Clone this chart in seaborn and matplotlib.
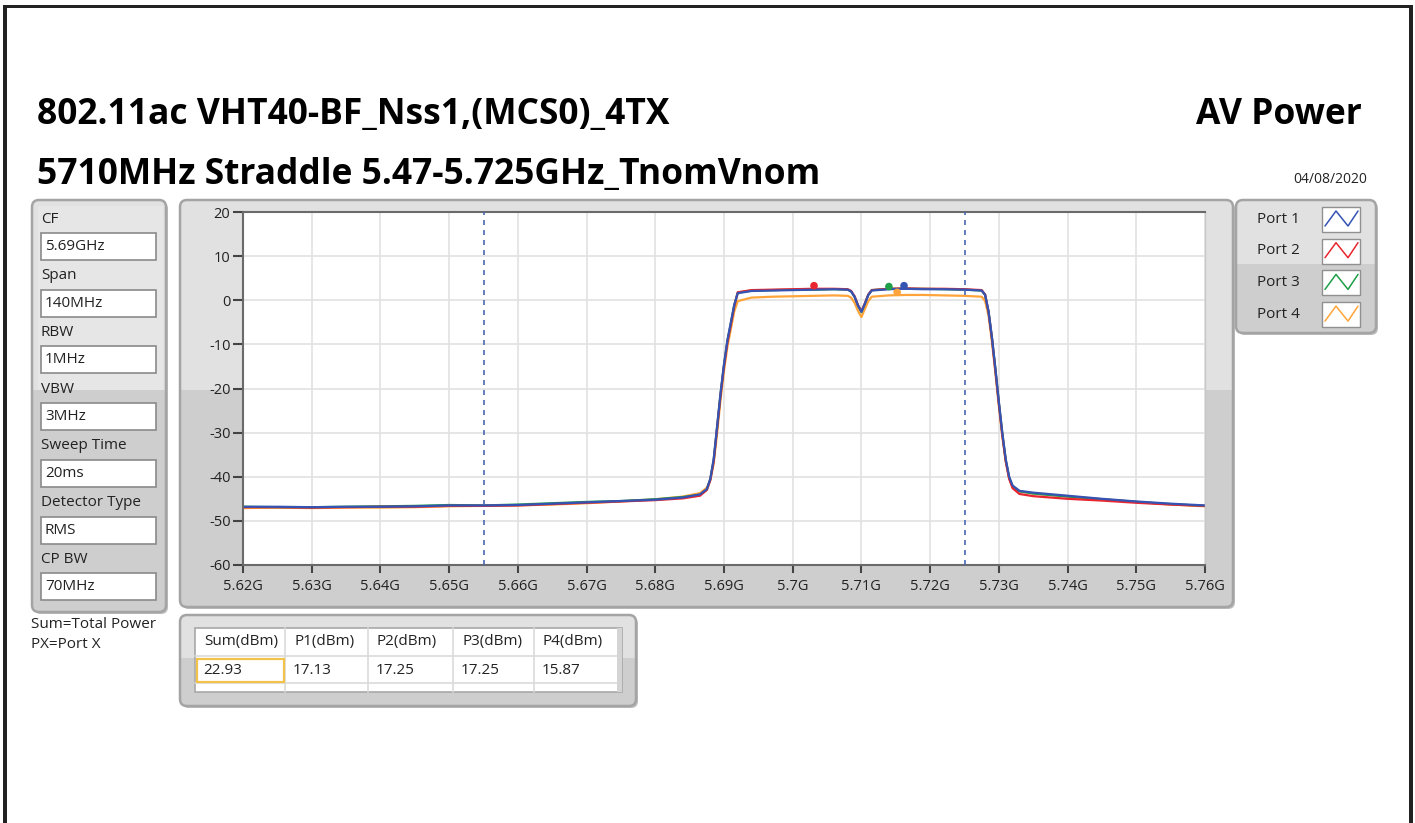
import numpy as np
import pandas as pd
import matplotlib
matplotlib.use("Agg")
import matplotlib.pyplot as plt
from matplotlib.patches import FancyBboxPatch, Rectangle
import seaborn as sns

sns.set_theme(style="white")
plt.rcParams['font.family'] = ['Open Sans', 'DejaVu Sans']

W, H = 1415, 823

# spectrum traces (GHz, dBm)
freq_ghz = [5.620, 5.625, 5.630, 5.635, 5.640, 5.645, 5.650, 5.655, 5.660, 5.665,
            5.670, 5.675, 5.680, 5.684, 5.6865, 5.6875, 5.688, 5.6885, 5.689, 5.6895,
            5.690, 5.6905, 5.691, 5.6915, 5.692, 5.694, 5.697, 5.700, 5.703, 5.706,
            5.708, 5.7085, 5.709, 5.7095, 5.710, 5.7105, 5.711, 5.7115, 5.714, 5.7165,
            5.719, 5.722, 5.725, 5.7275, 5.728, 5.7285, 5.729, 5.7295, 5.730, 5.7305,
            5.731, 5.7315, 5.732, 5.733, 5.735, 5.740, 5.745, 5.750, 5.755, 5.760]
port1_dbm = [-46.8, -46.8, -46.9, -46.8, -46.8, -46.7, -46.5, -46.5, -46.4, -46.1,
             -45.8, -45.5, -45.2, -44.7, -44.0, -42.8, -40.5, -36.0, -28.5, -21.0,
             -14.5, -9.0, -5.0, -1.0, 1.6, 2.1, 2.2, 2.3, 2.4, 2.5,
             2.4, 2.0, 0.8, -1.2, -2.6, -0.8, 1.2, 2.2, 2.5, 2.6,
             2.5, 2.5, 2.4, 2.2, 1.2, -2.5, -8.5, -15.5, -23.0, -30.0,
             -36.0, -40.0, -42.0, -43.2, -43.6, -44.3, -45.0, -45.6, -46.1, -46.5]
port2_dbm = [-46.9, -46.9, -47.0, -46.9, -46.8, -46.8, -46.6, -46.6, -46.5, -46.2,
             -45.9, -45.6, -45.3, -44.9, -44.3, -43.0, -40.8, -36.5, -29.0, -21.5,
             -15.0, -9.5, -5.5, -1.3, 1.8, 2.3, 2.4, 2.5, 2.6, 2.6,
             2.5, 2.1, 0.9, -1.1, -2.5, -0.7, 1.3, 2.3, 2.6, 2.7,
             2.6, 2.6, 2.5, 2.3, 1.3, -2.7, -8.8, -16.0, -23.5, -30.5,
             -36.5, -40.5, -42.6, -43.9, -44.4, -45.0, -45.4, -45.9, -46.3, -46.6]
port3_dbm = [-46.8, -46.9, -46.9, -46.8, -46.7, -46.6, -46.4, -46.5, -46.3, -46.0,
             -45.7, -45.5, -45.1, -44.6, -44.1, -42.9, -40.6, -36.2, -28.8, -21.2,
             -14.7, -9.2, -5.2, -1.1, 1.7, 2.2, 2.3, 2.4, 2.4, 2.5,
             2.4, 2.0, 0.8, -1.2, -2.7, -0.8, 1.2, 2.3, 2.6, 2.6,
             2.6, 2.5, 2.4, 2.2, 1.2, -2.6, -8.6, -15.7, -23.2, -30.2,
             -36.2, -40.2, -42.2, -43.3, -43.8, -44.5, -45.1, -45.7, -46.2, -46.6]
port4_dbm = [-47.1, -47.0, -47.1, -47.0, -47.0, -46.9, -46.7, -46.6, -46.5, -46.3,
             -46.0, -45.6, -45.1, -44.5, -43.7, -42.5, -40.8, -37.0, -30.0, -22.5,
             -16.0, -10.5, -6.5, -2.5, -0.2, 0.6, 0.8, 0.9, 1.0, 1.1,
             1.0, 0.6, -0.6, -2.4, -3.8, -2.0, -0.2, 0.8, 1.1, 1.2,
             1.2, 1.1, 1.0, 0.8, -0.2, -3.5, -9.5, -16.5, -24.0, -30.8,
             -36.5, -40.3, -42.3, -43.3, -43.8, -44.4, -45.1, -45.7, -46.3, -46.7]

port_names = ["Port 1", "Port 2", "Port 3", "Port 4"]
port_colors = ["#3553b3", "#e8262f", "#1e9e48", "#ffa43a"]

# peak markers per port
peak_freq_ghz = [5.7162, 5.7031, 5.7140, 5.7152]
peak_dbm = [3.3, 3.3, 3.1, 1.8]

# channel edge lines
edge_ghz = [5.655, 5.725]

x_ticks = [5.62, 5.63, 5.64, 5.65, 5.66, 5.67, 5.68, 5.69, 5.70, 5.71, 5.72, 5.73, 5.74, 5.75, 5.76]
x_tick_labels = ["5.62G", "5.63G", "5.64G", "5.65G", "5.66G", "5.67G", "5.68G", "5.69G",
                 "5.7G", "5.71G", "5.72G", "5.73G", "5.74G", "5.75G", "5.76G"]
y_ticks = [-60, -50, -40, -30, -20, -10, 0, 10, 20]

setting_names = ["CF", "Span", "RBW", "VBW", "Sweep Time", "Detector Type", "CP BW"]
setting_values = ["5.69GHz", "140MHz", "1MHz", "3MHz", "20ms", "RMS", "70MHz"]

table_headers = ["Sum(dBm)", "P1(dBm)", "P2(dBm)", "P3(dBm)", "P4(dBm)"]
table_values = ["22.93", "17.13", "17.25", "17.25", "15.87"]

title_1 = "802.11ac VHT40-BF_Nss1,(MCS0)_4TX"
title_2 = "5710MHz Straddle 5.47-5.725GHz_TnomVnom"
title_right = "AV Power"
date_text = "04/08/2020"

LIGHT = "#e1e1e1"
DARK = "#cecece"
EDGE = "#a4a4a4"
TXT = "#222222"


def panel(ax, x0, y0, x1, y1, split=None, light=LIGHT, dark=DARK):
    """rounded grey LabVIEW-like frame, optionally two-tone"""
    shadow = FancyBboxPatch((x0 + 2, y0 + 2), x1 - x0, y1 - y0,
                            boxstyle="round,pad=0,rounding_size=7",
                            fc="#bdbdbd", ec="none", zorder=0.5)
    ax.add_patch(shadow)
    p = FancyBboxPatch((x0, y0), x1 - x0, y1 - y0, boxstyle="round,pad=0,rounding_size=7",
                       fc=light, ec="none", zorder=1)
    ax.add_patch(p)
    if split is not None:
        r = Rectangle((x0, split), x1 - x0, y1 - split, fc=dark, ec="none", zorder=1.1)
        ax.add_patch(r)
        r.set_clip_path(p)
    ax.add_patch(FancyBboxPatch((x0, y0), x1 - x0, y1 - y0, boxstyle="round,pad=0,rounding_size=7",
                                fc="none", ec=EDGE, lw=1.8, zorder=1.2))


def white_box(ax, x0, y0, x1, y1, ec="#8a8a8a", lw=1.2):
    ax.add_patch(Rectangle((x0, y0), x1 - x0, y1 - y0, fc="white", ec=ec, lw=lw, zorder=2))


fig = plt.figure(figsize=(W / 100, H / 100), dpi=100)
bg = fig.add_axes([0, 0, 1, 1])
bg.set_xlim(0, W)
bg.set_ylim(H, 0)
bg.axis("off")

# page border
bg.add_patch(Rectangle((3, 5), 1410, 3, fc="#222222", ec="none"))
bg.add_patch(Rectangle((3, 5), 4, H, fc="#222222", ec="none"))
bg.add_patch(Rectangle((1409, 5), 4, H, fc="#222222", ec="none"))

# titles
bg.text(37, 124, title_1, fontsize=25.5, fontweight="bold", color="black", va="baseline")
bg.text(37, 184, title_2, fontsize=25.5, fontweight="bold", color="black", va="baseline")
bg.text(1362, 124, title_right, fontsize=25.5, fontweight="bold", color="black", va="baseline", ha="right")
bg.text(1367, 183, date_text, fontsize=10, color=TXT, va="baseline", ha="right")

# settings panel on the left
panel(bg, 32, 200, 166, 612, split=390)
bg.add_patch(Rectangle((38, 206), 125, 184, fc="#e6e6e6", ec="none", zorder=1.15))
for i, (name, val) in enumerate(zip(setting_names, setting_values)):
    ly = 219 + i * 56.7
    bg.text(41, ly, name, fontsize=11, color=TXT, va="center", zorder=3)
    by = ly + 14
    white_box(bg, 41, by, 156, by + 27)
    bg.text(45, by + 13.5, val, fontsize=11, color=TXT, va="center", zorder=3)
bg.text(31, 624, "Sum=Total Power", fontsize=11, color=TXT, va="center")
bg.text(31, 645, "PX=Port X", fontsize=11, color=TXT, va="center")

# graph frame
panel(bg, 180, 200, 1233, 607, split=390)

# legend panel
panel(bg, 1236, 200, 1376, 333, split=264)
for i, (name, col) in enumerate(zip(port_names, port_colors)):
    ly = 219 + i * 31.7
    bg.text(1257, ly, name, fontsize=11, color=TXT, va="center", zorder=3)
    white_box(bg, 1322, ly - 12, 1360, ly + 13, ec="#909090", lw=1.0)
    bg.plot([1325, 1336, 1348, 1358], [ly + 7, ly - 8, ly + 7, ly - 8], color=col, lw=1.1, zorder=3)

# results table
panel(bg, 180, 615, 636, 706, split=658)
bg.add_patch(Rectangle((195, 628), 427, 64, fc="white", ec="#a8a8a8", lw=1.2, zorder=2))
col_edges = [195, 285, 368, 453, 534, 617]
for cx in col_edges[1:-1]:
    bg.plot([cx, cx], [628, 692], color="#dadada", lw=1.2, zorder=2.5)
bg.add_patch(Rectangle((617, 628), 5, 64, fc="#d4d4d4", ec="none", zorder=2.5))
bg.plot([195, 617], [656, 656], color="#dadada", lw=1.2, zorder=2.5)
bg.plot([195, 617], [683, 683], color="#dadada", lw=1.2, zorder=2.5)
for cx, h, v in zip(col_edges[:-1], table_headers, table_values):
    bg.text(cx + 9, 642, h, fontsize=11, color=TXT, va="center", zorder=3)
    bg.text(cx + 8, 670, v, fontsize=11, color=TXT, va="center", zorder=3)
bg.add_patch(Rectangle((197, 659), 87, 23, fc="none", ec="#f2c24a", lw=1.6, zorder=3))

# spectrum graph
ax = fig.add_axes([243 / W, 1 - 565 / H, (1205 - 243) / W, (565 - 212) / H], zorder=3)
ax.set_facecolor("white")

frames = []
for name, vals in zip(port_names, [port1_dbm, port2_dbm, port3_dbm, port4_dbm]):
    frames.append(pd.DataFrame({"freq": freq_ghz, "dbm": vals, "port": name}))
df = pd.concat(frames, ignore_index=True)
pal = dict(zip(port_names, port_colors))

sns.lineplot(data=df, x="freq", y="dbm", hue="port", hue_order=port_names[::-1],
             palette=pal, legend=False, ax=ax, lw=1.6, estimator=None, errorbar=None, sort=False)
sns.scatterplot(x=peak_freq_ghz, y=peak_dbm, hue=port_names, palette=pal, s=30,
                edgecolor="none", legend=False, ax=ax, zorder=5)

for e in edge_ghz:
    ax.axvline(e, color="#4a68b0", lw=1.2, ls=(0, (3, 3)), zorder=4)

ax.set_xlim(5.62, 5.76)
ax.set_ylim(-60, 20)
ax.set_xticks(x_ticks)
ax.set_xticklabels(x_tick_labels)
ax.set_yticks(y_ticks)
ax.set_yticklabels([str(v) for v in y_ticks])
ax.grid(True, color="#e2e2e2", lw=1.2)
ax.set_axisbelow(True)
ax.set_xlabel("")
ax.set_ylabel("")
ax.tick_params(axis="both", which="both", direction="out", color="#444444", labelsize=10.5,
               labelcolor=TXT, width=1.5, left=True, bottom=True)
ax.tick_params(axis="y", length=7, pad=2)
ax.tick_params(axis="x", length=6, pad=4)
for s in ["left", "bottom", "top"]:
    ax.spines[s].set_color("#6a6a6a")
    ax.spines[s].set_linewidth(1.5)
ax.spines["right"].set_color("#c8c8c8")
ax.spines["right"].set_linewidth(1.0)

fig.savefig("out.png", dpi=100)
